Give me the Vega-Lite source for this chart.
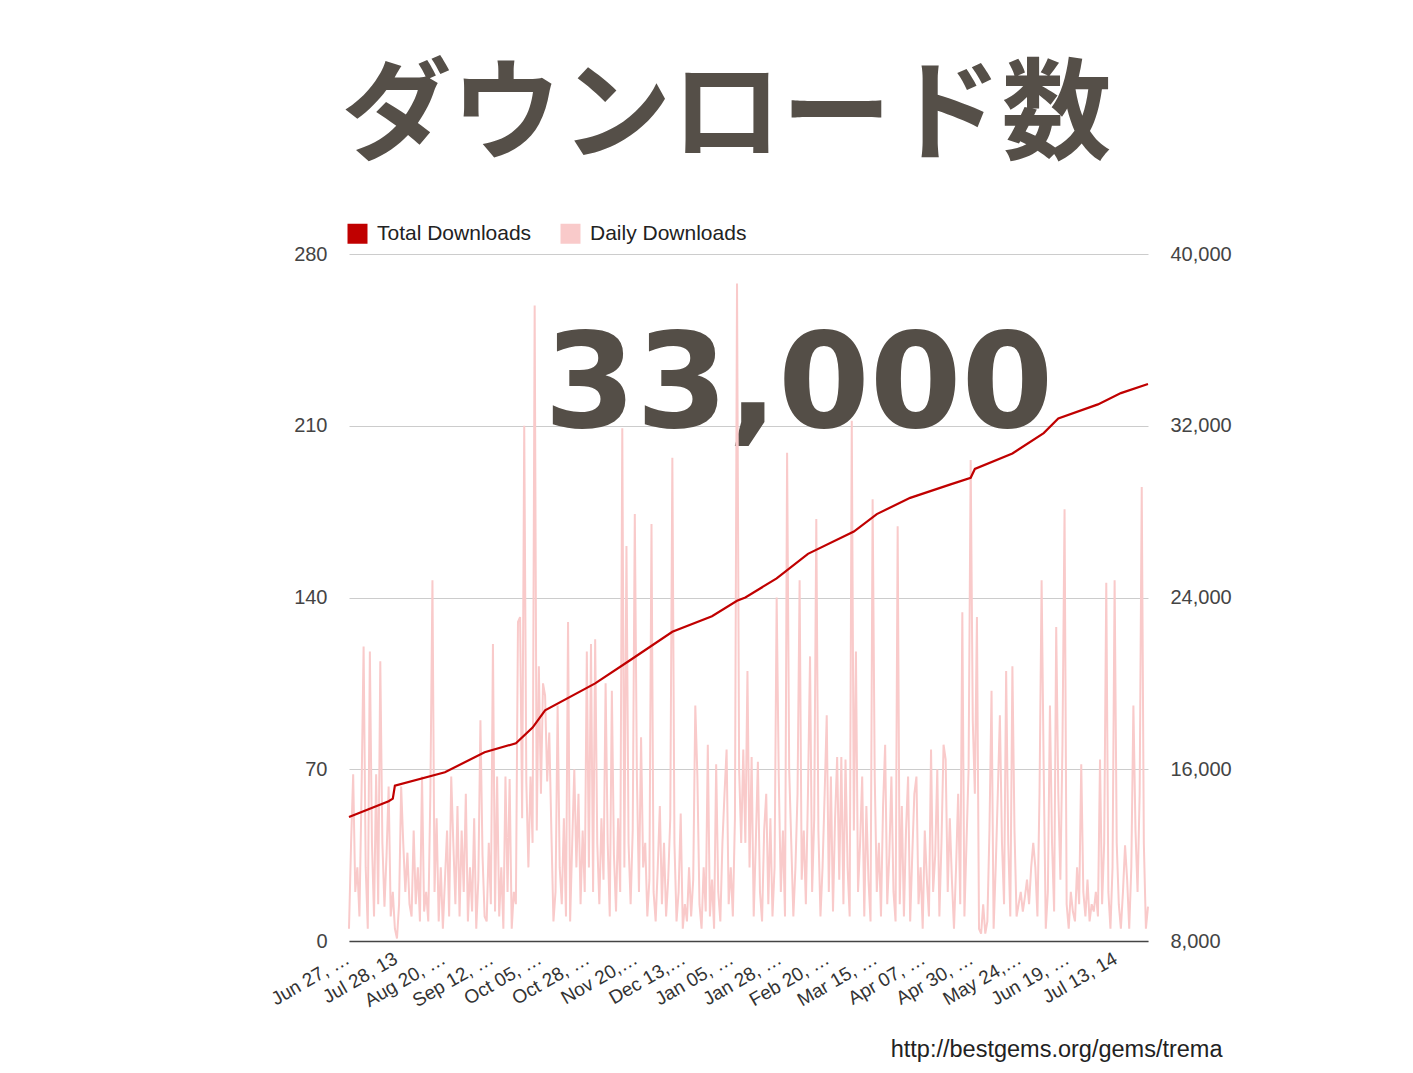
{
  "$schema": "https://vega.github.io/schema/vega-lite/v6.json",
  "autosize": "none",
  "width": 799,
  "height": 687,
  "padding": {"left": 349, "top": 254, "right": 265, "bottom": 132},
  "background": "white",
  "config": {
    "font": "Liberation Sans",
    "view": {"stroke": null},
    "legend": {"orient": "none", "legendX": -2, "legendY": -31, "direction": "horizontal", "title": null, "symbolType": "square", "symbolSize": 400, "labelFontSize": 21, "labelColor": "#222", "columnPadding": 28, "labelOffset": 9}
  },
  "title": {"text": "ダウンロード数", "font": "Noto Sans CJK JP", "fontSize": 110, "fontWeight": "bold", "color": "#554f48", "anchor": "middle", "frame": "group", "dx": -22, "dy": 103, "offset": 65, "baseline": "alphabetic"},
  "datasets": {
    "daily": [
      {"i":0,"d":5},{"i":1,"d":40},{"i":2,"d":68},{"i":3,"d":20},{"i":4,"d":30},{"i":5,"d":10},{"i":6,"d":60},{"i":7,"d":120},{"i":8,"d":30},{"i":9,"d":5},
      {"i":10,"d":118},{"i":11,"d":40},{"i":12,"d":10},{"i":13,"d":68},{"i":14,"d":15},{"i":15,"d":114},{"i":16,"d":40},{"i":17,"d":14},{"i":18,"d":35},{"i":19,"d":63},
      {"i":20,"d":10},{"i":21,"d":20},{"i":22,"d":5},{"i":23,"d":1},{"i":24,"d":15},{"i":25,"d":63},{"i":26,"d":40},{"i":27,"d":20},{"i":28,"d":36},{"i":29,"d":15},
      {"i":30,"d":10},{"i":31,"d":45},{"i":32,"d":15},{"i":33,"d":30},{"i":34,"d":8},{"i":35,"d":67},{"i":36,"d":12},{"i":37,"d":20},{"i":38,"d":8},{"i":39,"d":60},
      {"i":40,"d":147},{"i":41,"d":20},{"i":42,"d":50},{"i":43,"d":8},{"i":44,"d":30},{"i":45,"d":5},{"i":46,"d":25},{"i":47,"d":45},{"i":48,"d":10},{"i":49,"d":67},
      {"i":50,"d":40},{"i":51,"d":15},{"i":52,"d":55},{"i":53,"d":10},{"i":54,"d":45},{"i":55,"d":20},{"i":56,"d":60},{"i":57,"d":8},{"i":58,"d":30},{"i":59,"d":12},
      {"i":60,"d":50},{"i":61,"d":5},{"i":62,"d":25},{"i":63,"d":90},{"i":64,"d":35},{"i":65,"d":10},{"i":66,"d":8},{"i":67,"d":40},{"i":68,"d":15},{"i":69,"d":121},
      {"i":70,"d":12},{"i":71,"d":67},{"i":72,"d":10},{"i":73,"d":30},{"i":74,"d":5},{"i":75,"d":67},{"i":76,"d":20},{"i":77,"d":66},{"i":78,"d":5},{"i":79,"d":20},
      {"i":80,"d":15},{"i":81,"d":130},{"i":82,"d":132},{"i":83,"d":50},{"i":84,"d":210},{"i":85,"d":65},{"i":86,"d":30},{"i":87,"d":67},{"i":88,"d":40},{"i":89,"d":259},
      {"i":90,"d":45},{"i":91,"d":112},{"i":92,"d":60},{"i":93,"d":105},{"i":94,"d":100},{"i":95,"d":65},{"i":96,"d":85},{"i":97,"d":45},{"i":98,"d":8},{"i":99,"d":20},
      {"i":100,"d":96},{"i":101,"d":30},{"i":102,"d":15},{"i":103,"d":50},{"i":104,"d":10},{"i":105,"d":130},{"i":106,"d":8},{"i":107,"d":40},{"i":108,"d":70},{"i":109,"d":30},
      {"i":110,"d":60},{"i":111,"d":15},{"i":112,"d":45},{"i":113,"d":20},{"i":114,"d":118},{"i":115,"d":30},{"i":116,"d":121},{"i":117,"d":20},{"i":118,"d":123},{"i":119,"d":40},
      {"i":120,"d":15},{"i":121,"d":50},{"i":122,"d":25},{"i":123,"d":105},{"i":124,"d":40},{"i":125,"d":10},{"i":126,"d":102},{"i":127,"d":35},{"i":128,"d":12},{"i":129,"d":50},
      {"i":130,"d":20},{"i":131,"d":209},{"i":132,"d":30},{"i":133,"d":161},{"i":134,"d":40},{"i":135,"d":15},{"i":136,"d":45},{"i":137,"d":174},{"i":138,"d":67},{"i":139,"d":20},
      {"i":140,"d":83},{"i":141,"d":30},{"i":142,"d":40},{"i":143,"d":10},{"i":144,"d":25},{"i":145,"d":170},{"i":146,"d":20},{"i":147,"d":8},{"i":148,"d":30},{"i":149,"d":55},
      {"i":150,"d":15},{"i":151,"d":40},{"i":152,"d":10},{"i":153,"d":25},{"i":154,"d":50},{"i":155,"d":197},{"i":156,"d":40},{"i":157,"d":8},{"i":158,"d":20},{"i":159,"d":52},
      {"i":160,"d":5},{"i":161,"d":15},{"i":162,"d":8},{"i":163,"d":30},{"i":164,"d":10},{"i":165,"d":25},{"i":166,"d":96},{"i":167,"d":67},{"i":168,"d":15},{"i":169,"d":5},
      {"i":170,"d":30},{"i":171,"d":12},{"i":172,"d":80},{"i":173,"d":10},{"i":174,"d":25},{"i":175,"d":5},{"i":176,"d":72},{"i":177,"d":20},{"i":178,"d":8},{"i":179,"d":40},
      {"i":180,"d":60},{"i":181,"d":78},{"i":182,"d":15},{"i":183,"d":30},{"i":184,"d":10},{"i":185,"d":50},{"i":186,"d":268},{"i":187,"d":70},{"i":188,"d":40},{"i":189,"d":78},
      {"i":190,"d":40},{"i":191,"d":110},{"i":192,"d":30},{"i":193,"d":75},{"i":194,"d":10},{"i":195,"d":40},{"i":196,"d":73},{"i":197,"d":20},{"i":198,"d":8},{"i":199,"d":45},
      {"i":200,"d":60},{"i":201,"d":15},{"i":202,"d":50},{"i":203,"d":10},{"i":204,"d":30},{"i":205,"d":140},{"i":206,"d":67},{"i":207,"d":20},{"i":208,"d":45},{"i":209,"d":10},
      {"i":210,"d":199},{"i":211,"d":70},{"i":212,"d":40},{"i":213,"d":10},{"i":214,"d":30},{"i":215,"d":60},{"i":216,"d":147},{"i":217,"d":25},{"i":218,"d":45},{"i":219,"d":15},
      {"i":220,"d":60},{"i":221,"d":116},{"i":222,"d":20},{"i":223,"d":50},{"i":224,"d":172},{"i":225,"d":45},{"i":226,"d":10},{"i":227,"d":30},{"i":228,"d":60},{"i":229,"d":92},
      {"i":230,"d":20},{"i":231,"d":67},{"i":232,"d":12},{"i":233,"d":50},{"i":234,"d":75},{"i":235,"d":25},{"i":236,"d":75},{"i":237,"d":15},{"i":238,"d":74},{"i":239,"d":30},
      {"i":240,"d":10},{"i":241,"d":212},{"i":242,"d":45},{"i":243,"d":118},{"i":244,"d":20},{"i":245,"d":40},{"i":246,"d":67},{"i":247,"d":10},{"i":248,"d":55},{"i":249,"d":25},
      {"i":250,"d":8},{"i":251,"d":180},{"i":252,"d":67},{"i":253,"d":20},{"i":254,"d":40},{"i":255,"d":10},{"i":256,"d":55},{"i":257,"d":80},{"i":258,"d":15},{"i":259,"d":35},
      {"i":260,"d":67},{"i":261,"d":20},{"i":262,"d":8},{"i":263,"d":169},{"i":264,"d":15},{"i":265,"d":55},{"i":266,"d":10},{"i":267,"d":45},{"i":268,"d":67},{"i":269,"d":8},
      {"i":270,"d":35},{"i":271,"d":60},{"i":272,"d":67},{"i":273,"d":15},{"i":274,"d":30},{"i":275,"d":5},{"i":276,"d":45},{"i":277,"d":25},{"i":278,"d":10},{"i":279,"d":78},
      {"i":280,"d":20},{"i":281,"d":35},{"i":282,"d":70},{"i":283,"d":10},{"i":284,"d":40},{"i":285,"d":80},{"i":286,"d":74},{"i":287,"d":20},{"i":288,"d":50},{"i":289,"d":25},
      {"i":290,"d":5},{"i":291,"d":30},{"i":292,"d":60},{"i":293,"d":15},{"i":294,"d":134},{"i":295,"d":10},{"i":296,"d":40},{"i":297,"d":70},{"i":298,"d":196},{"i":299,"d":90},
      {"i":300,"d":60},{"i":301,"d":132},{"i":302,"d":5},{"i":303,"d":3},{"i":304,"d":15},{"i":305,"d":3},{"i":306,"d":8},{"i":307,"d":45},{"i":308,"d":102},{"i":309,"d":5},
      {"i":310,"d":30},{"i":311,"d":60},{"i":312,"d":92},{"i":313,"d":40},{"i":314,"d":15},{"i":315,"d":110},{"i":316,"d":40},{"i":317,"d":10},{"i":318,"d":112},{"i":319,"d":45},
      {"i":320,"d":10},{"i":321,"d":15},{"i":322,"d":20},{"i":323,"d":12},{"i":324,"d":18},{"i":325,"d":25},{"i":326,"d":15},{"i":327,"d":30},{"i":328,"d":40},{"i":329,"d":30},
      {"i":330,"d":10},{"i":331,"d":60},{"i":332,"d":147},{"i":333,"d":70},{"i":334,"d":5},{"i":335,"d":20},{"i":336,"d":96},{"i":337,"d":40},{"i":338,"d":12},{"i":339,"d":128},
      {"i":340,"d":60},{"i":341,"d":25},{"i":342,"d":80},{"i":343,"d":176},{"i":344,"d":15},{"i":345,"d":5},{"i":346,"d":20},{"i":347,"d":12},{"i":348,"d":8},{"i":349,"d":30},
      {"i":350,"d":15},{"i":351,"d":72},{"i":352,"d":20},{"i":353,"d":10},{"i":354,"d":25},{"i":355,"d":8},{"i":356,"d":15},{"i":357,"d":12},{"i":358,"d":20},{"i":359,"d":10},
      {"i":360,"d":74},{"i":361,"d":15},{"i":362,"d":40},{"i":363,"d":146},{"i":364,"d":20},{"i":365,"d":5},{"i":366,"d":30},{"i":367,"d":147},{"i":368,"d":40},{"i":369,"d":15},
      {"i":370,"d":5},{"i":371,"d":20},{"i":372,"d":39},{"i":373,"d":25},{"i":374,"d":5},{"i":375,"d":30},{"i":376,"d":96},{"i":377,"d":45},{"i":378,"d":20},{"i":379,"d":60},
      {"i":380,"d":185},{"i":381,"d":40},{"i":382,"d":5},{"i":383,"d":14}
    ],
    "total": [
      {"i":0,"t":13771},{"i":19,"t":14514},{"i":21,"t":14630},{"i":22,"t":15234},{"i":46,"t":15863},{"i":65,"t":16789},{"i":80,"t":17211},{"i":88,"t":17943},{"i":94,"t":18743},
      {"i":118,"t":20000},{"i":134,"t":21029},{"i":155,"t":22400},{"i":174,"t":23131},{"i":186,"t":23851},{"i":190,"t":24000},{"i":205,"t":24891},{"i":220,"t":26034},
      {"i":242,"t":27074},{"i":253,"t":27886},{"i":269,"t":28640},{"i":288,"t":29257},{"i":298,"t":29577},{"i":300,"t":29989},{"i":318,"t":30709},{"i":333,"t":31657},
      {"i":340,"t":32343},{"i":359,"t":32994},{"i":370,"t":33520},{"i":383,"t":33943}
    ]
  },
  "layer": [
    {
      "layer": [
        {
          "data": {"values": [{"label": "33,000"}]},
          "mark": {"type": "text", "font": "DejaVu Sans", "fontWeight": "bold", "fontSize": 132, "color": "#544e47", "align": "center", "baseline": "alphabetic"},
          "encoding": {
            "x": {"datum": 215.6, "type": "quantitative"},
            "y": {"datum": 209.5, "type": "quantitative"},
            "text": {"field": "label"}
          }
        },
        {
          "data": {"name": "daily"},
          "mark": {"type": "line", "strokeWidth": 2, "clip": false},
          "encoding": {
            "x": {
              "field": "i", "type": "quantitative",
              "scale": {"domain": [0, 383], "nice": false, "zero": false},
              "axis": {
                "values": [0, 23, 46, 69, 92, 115, 138, 161, 184, 207, 230, 253, 276, 299, 322, 345, 368],
                "labelExpr": "['Jun 27, …','Jul 28, 13','Aug 20, …','Sep 12, …','Oct 05, …','Oct 28, …','Nov 20,…','Dec 13,…','Jan 05, …','Jan 28, …','Feb 20, …','Mar 15, …','Apr 07, …','Apr 30, …','May 24,…','Jun 19, …','Jul 13, 14'][round(datum.value / 23)]",
                "labelAngle": -30, "labelAlign": "right", "labelBaseline": "top", "labelOffset": -6,
                "ticks": false, "grid": false, "domain": true, "domainColor": "#444", "domainWidth": 1.5,
                "labelFontSize": 19, "labelColor": "#333", "labelPadding": 8, "labelOverlap": false,
                "title": "http://bestgems.org/gems/trema", "titleX": 873, "titleY": 115, "titleAlign": "right", "titleBaseline": "alphabetic",
                "titleFontSize": 23.5, "titleFontWeight": "normal", "titleColor": "#222", "titleAnchor": "end"
              }
            },
            "y": {
              "field": "d", "type": "quantitative",
              "scale": {"domain": [0, 280], "nice": false},
              "axis": {"orient": "left", "values": [0, 70, 140, 210, 280], "title": null, "grid": true, "gridColor": "#cccccc", "domain": false, "ticks": false, "labelFontSize": 20, "labelColor": "#444", "labelPadding": 22}
            },
            "color": {
              "datum": "Daily Downloads",
              "scale": {"domain": ["Total Downloads", "Daily Downloads"], "range": ["#c00000", "#f9caca"]},
              "legend": {"encode": {"symbols": {"update": {"fill": {"scale": "color", "field": "value"}, "strokeWidth": {"value": 0}, "fillOpacity": {"value": 1}}}}}
            }
          }
        }
      ]
    },
    {
      "data": {"name": "total"},
      "mark": {"type": "line", "strokeWidth": 2.2},
      "encoding": {
        "x": {"field": "i", "type": "quantitative"},
        "y": {
          "field": "t", "type": "quantitative",
          "scale": {"domain": [8000, 40000], "nice": false, "zero": false},
          "axis": {"orient": "right", "values": [8000, 16000, 24000, 32000, 40000], "format": ",d", "title": null, "grid": false, "domain": false, "ticks": false, "labelFontSize": 20, "labelColor": "#444", "labelPadding": 22}
        },
        "color": {"datum": "Total Downloads"}
      }
    }
  ],
  "resolve": {"scale": {"y": "independent"}}
}
